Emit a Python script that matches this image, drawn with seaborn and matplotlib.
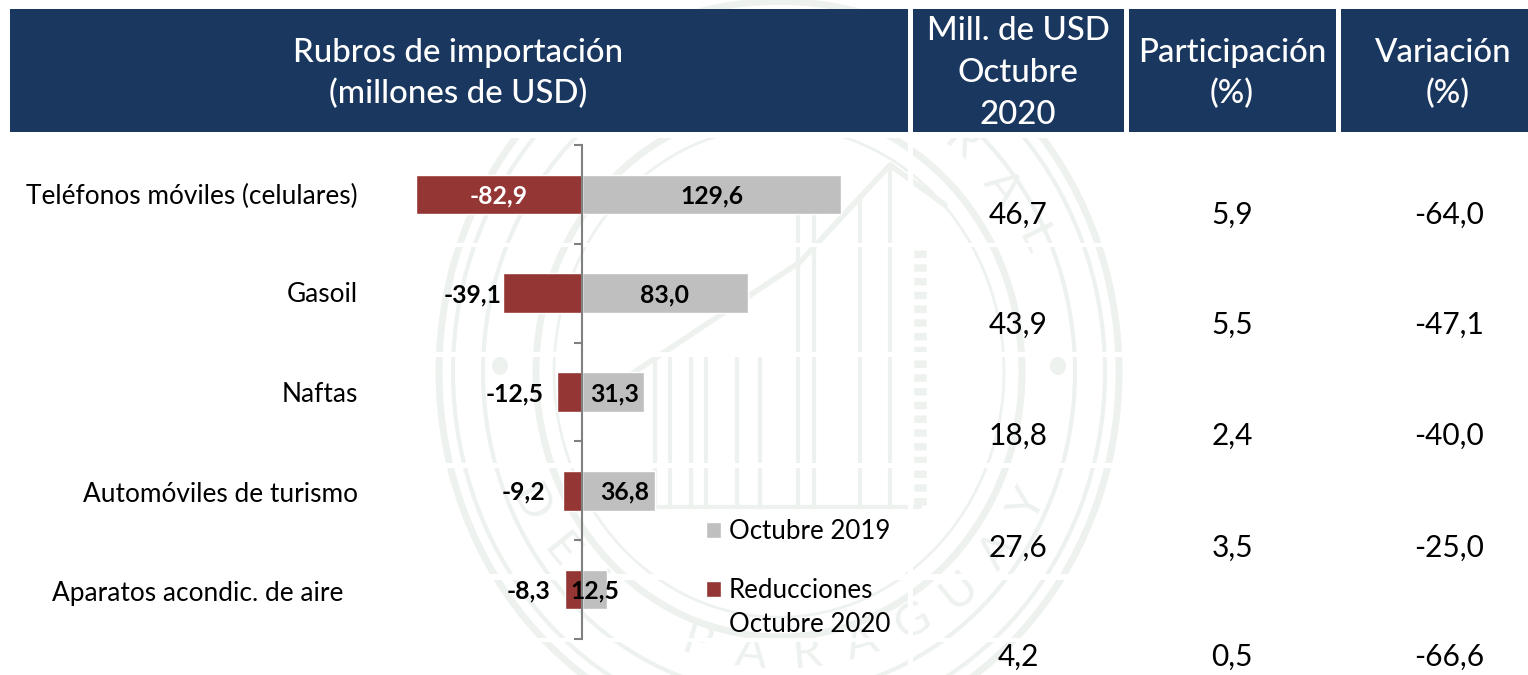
import numpy as np
import pandas as pd
import matplotlib
matplotlib.use("Agg")
import matplotlib.pyplot as plt
from matplotlib.patches import Ellipse, Rectangle
import seaborn as sns

# ---- data ----
rubros = ["Teléfonos móviles (celulares)", "Gasoil", "Naftas",
          "Automóviles de turismo", "Aparatos acondic. de aire"]
octubre_2019 = [129.6, 83.0, 31.3, 36.8, 12.5]
reducciones = [-82.9, -39.1, -12.5, -9.2, -8.3]
mill_usd = ["46,7", "43,9", "18,8", "27,6", "4,2"]
participacion = ["5,9", "5,5", "2,4", "3,5", "0,5"]
variacion = ["-64,0", "-47,1", "-40,0", "-25,0", "-66,6"]
serie_a = "Octubre 2019"
serie_b = "Reducciones\nOctubre 2020"
sello_arriba = "RAL"
sello_abajo = "DEL PARAGUAY"

# ---- style ----
W, H = 1528, 675
NAVY, RED, GREY, AXISC, MARK = "#1a375f", "#943634", "#bfbfbf", "#808080", "#eef2ef"
sns.set_theme(style="white")
plt.rcParams["font.family"] = ["Lato", "DejaVu Sans"]
FS = 18.9
fig = plt.figure(figsize=(W / 100, H / 100), dpi=100, facecolor="white")

# full-figure pixel canvas: watermark, header, table columns
bg = fig.add_axes([0, 0, 1, 1], zorder=0)
bg.set_xlim(0, W); bg.set_ylim(H, 0); bg.axis("off")

cx, cy = 779, 372
for a, lw in [(340, 5), (326, 3), (296, 3), (243, 5), (225, 2)]:
    bg.add_patch(Ellipse((cx, cy), 2 * a, 2 * a * 1.09, fill=False, ec=MARK, lw=lw))
for x in (500, 1058):
    bg.add_patch(Ellipse((x, 366), 16, 18, fc=MARK, ec="none"))
for x0, y0 in [(798, 196), (814, 196), (860, 196), (890, 170)]:
    bg.plot([x0, x0], [y0, 505], color=MARK, lw=3)
for x0 in (655, 670, 691, 706, 737, 760):
    bg.plot([x0, x0], [356, 505], color=MARK, lw=3)
bg.plot([620, 920], [507, 507], color=MARK, lw=3)
bg.plot([600, 800, 890, 945], [395, 262, 165, 205], color=MARK, lw=4)
bg.plot([920, 920], [250, 505], color=MARK, lw=9, ls=(0, (0.6, 0.5)))

def arc_text(txt, start, end, a, b, bottom):
    for ch, t in zip(txt, np.linspace(start, end, len(txt))):
        r = np.deg2rad(t)
        x, y = cx + a * np.sin(r), cy + (b * np.cos(r) if bottom else -b * np.cos(r))
        rot = t if bottom else -t
        bg.text(x, y, ch, color=MARK, fontsize=34, ha="center", va="center", rotation=rot, zorder=1)

arc_text(sello_abajo, -62, 62, 283, 283, True)
arc_text(sello_arriba, 40, 64, 283, 300, False)

# white table gridlines over the watermark
for y0, y1 in [(132, 138), (243, 247), (352, 357), (463, 468), (574, 580), (638, 642)]:
    bg.add_patch(Rectangle((0, y0), W, y1 - y0, fc="white", ec="none", zorder=2))
for x0, x1 in [(908, 913), (1124, 1129), (1336, 1341)]:
    bg.add_patch(Rectangle((x0, 0), x1 - x0, H, fc="white", ec="none", zorder=2))

# header boxes
for x0, x1 in [(10, 908), (913, 1124), (1129, 1336), (1341, 1528)]:
    bg.add_patch(Rectangle((x0, 9), x1 - x0, 123, fc=NAVY, ec="none", zorder=3))
hkw = dict(color="white", ha="center", va="center", fontsize=23.8, fontweight="medium", zorder=4)
bg.text(458, 53, "Rubros de importación", **hkw)
bg.text(458, 94, "(millones de USD)", **hkw)
for y, t in zip((31, 73, 115), ("Mill. de USD", "Octubre", "2020")):
    bg.text(1018, y, t, **hkw)
bg.text(1232, 53, "Participación", **hkw)
bg.text(1232, 94, "(%)", **hkw)
bg.text(1443, 53, "Variación", **hkw)
bg.text(1448, 94, "(%)", **hkw)

# table columns
rows_y = [215, 325, 436, 548, 657]
for x, col in zip((1018, 1232, 1449), (mill_usd, participacion, variacion)):
    for y, t in zip(rows_y, col):
        bg.text(x, y, t, color="black", fontsize=21.5, ha="center", va="center", zorder=4)

# chart axes: zero at x=581.5, 2 px per unit
left, right, top, bottom = 400, 905, 145, 639
ax = fig.add_axes([left / W, 1 - bottom / H, (right - left) / W, (bottom - top) / H], zorder=1)
ax.patch.set_alpha(0)
df = pd.DataFrame({
    "rubro": rubros * 2,
    "valor": octubre_2019 + reducciones,
    "serie": [serie_a] * 5 + [serie_b] * 5,
})
sns.barplot(data=df, y="rubro", x="valor", hue="serie", dodge=False, width=0.4,
            palette={serie_a: GREY, serie_b: RED}, saturation=1, ax=ax, errorbar=None)
ax.set_xlim((left - 581.5) / 2, (right - 581.5) / 2)
ax.set_ylim(4.5, -0.5)
ax.set_xlabel(""); ax.set_ylabel("")
ax.xaxis.set_visible(False)
for s in ("top", "right", "bottom"):
    ax.spines[s].set_visible(False)
ax.spines["left"].set_position(("data", 0))
ax.spines["left"].set_color(AXISC)
ax.spines["left"].set_linewidth(1.5)
ax.set_yticks(np.arange(-0.5, 5, 1))
ax.set_yticklabels([])
ax.tick_params(axis="y", which="major", direction="out", length=5.5, width=1.5, color=AXISC, left=True)

pt = 0.72  # pixels -> points at dpi 100
cat_right = [223.5, 223.5, 223.5, 223.5, 238.5]
cat_down = [2, 1, 2, 4, 4]
for i, (name, off, dn) in enumerate(zip(rubros, cat_right, cat_down)):
    ax.annotate(name, (0, i), xytext=(-off * pt, -dn * pt), textcoords="offset points",
                ha="right", va="center", fontsize=FS, color="black")

vfmt = lambda v: f"{v:.1f}".replace(".", ",")
lkw = dict(textcoords="offset points", va="center", fontsize=17.8, fontweight="bold", annotation_clip=False)
dy = -1.5 * pt
grey_off = [1, 0, 2, 6, 1]
for i, (v, off) in enumerate(zip(octubre_2019, grey_off)):
    ax.annotate(vfmt(v), (v / 2, i), xytext=(off * pt, dy), ha="center", color="black", zorder=6, **lkw)
ax.annotate(vfmt(reducciones[0]), (reducciones[0] / 2, 0), xytext=(0, dy), ha="center", color="white", **lkw)
red_pad = [None, 2, 13, 18, 15]
for i, (v, pad) in enumerate(zip(reducciones, red_pad)):
    if pad is not None:
        ax.annotate(vfmt(v), (v, i), xytext=(-pad * pt, dy), ha="right", color="black", **lkw)

# legend
handles, labels = ax.get_legend_handles_labels()
leg = ax.legend(handles, labels, loc="upper left", bbox_to_anchor=(706 / W, 1 - 519 / H),
                bbox_transform=fig.transFigure, frameon=False, fontsize=18.6, labelcolor="black",
                handlelength=0.58, handleheight=0.58, handletextpad=0.31, labelspacing=1.31,
                borderpad=0, borderaxespad=0)
for t in leg.get_texts():
    t.set_linespacing(1.45)
h = leg.legend_handles[1]
h.set_y(h.get_y() + 19 * pt)  # align the swatch with the first label line

fig.savefig("out.png", dpi=100, facecolor="white")
